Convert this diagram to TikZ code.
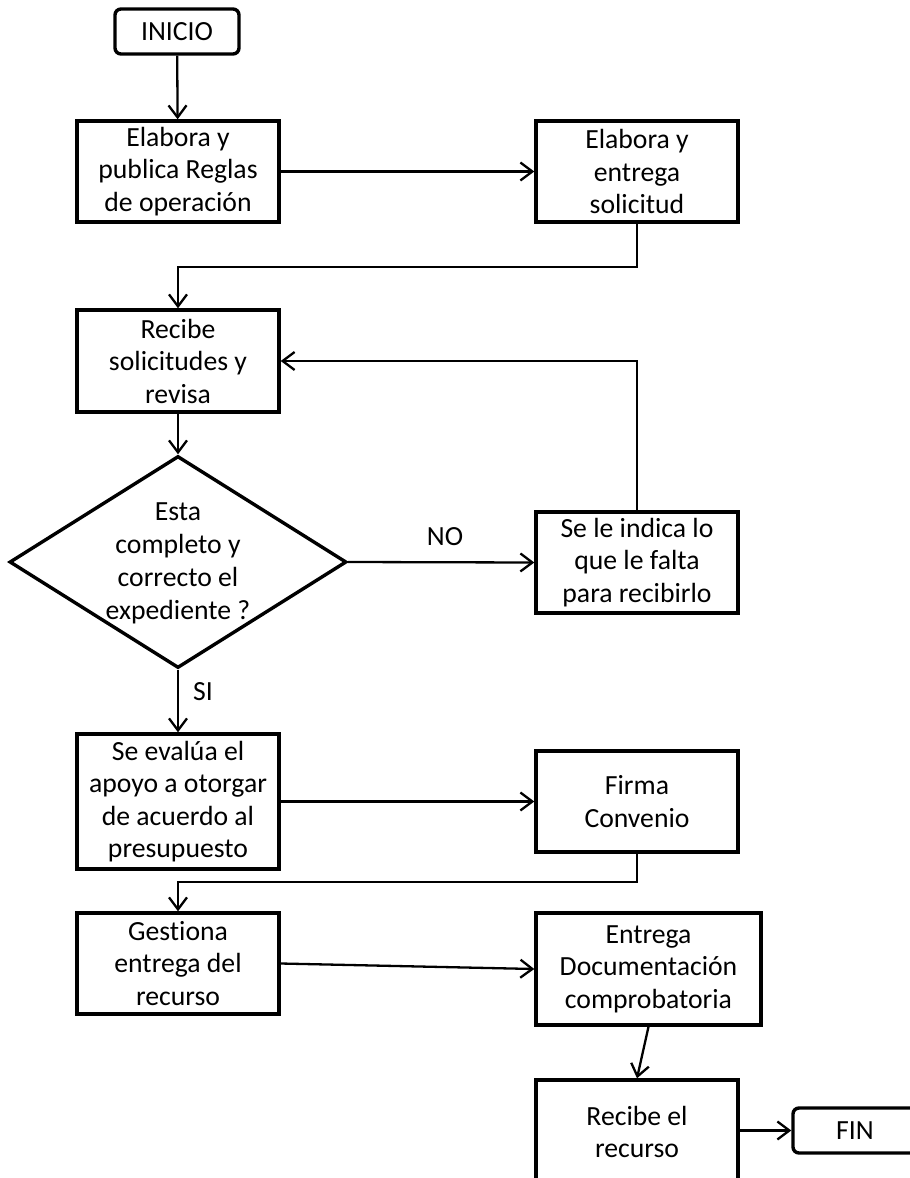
\documentclass[tikz,border=0pt]{standalone}
\usepackage{fontspec}
\setmainfont{Carlito}[Ligatures=NoCommon]
\usetikzlibrary{arrows.meta,shapes.geometric}
\tikzset{
  stepbox/.style={draw, line width=3.4pt, rectangle, inner sep=0pt, align=center,
    font=\fontsize{27.7}{32.5}\selectfont},
  term/.style={draw, line width=3.4pt, rectangle, rounded corners=6pt, inner sep=0pt,
    align=center, font=\fontsize{27.7}{32.5}\selectfont},
  decbox/.style={draw, line width=3.4pt, diamond, inner sep=0pt},
  conn/.style={line width=2.3pt, -{Straight Barb[length=12pt,width=18pt,line width=2.3pt]}},
  lbl/.style={font=\fontsize{27.7}{32.5}\selectfont, inner sep=0pt}
}
\begin{document}
\begin{tikzpicture}[x=1pt,y=-1pt]
\path[use as bounding box, clip] (0,0) rectangle (910,1178);
\fill[white] (0,0) rectangle (910,1178);

\node[term, minimum width=124pt, minimum height=45pt] (ini) at (177,31.5) {INICIO};
\node[stepbox, minimum width=202pt, minimum height=101pt] (b1) at (178,171.5) {Elabora y\\publica Reglas\\de operación};
\node[stepbox, minimum width=202pt, minimum height=101pt] (b2) at (637,171.5) {Elabora y\\entrega\\solicitud};
\node[stepbox, minimum width=202pt, minimum height=102pt] (b3) at (178,361) {Recibe\\solicitudes y\\revisa};
\node[decbox, minimum width=337pt, minimum height=212pt] (dec) at (178,562) {};
\node[lbl, align=center, font=\fontsize{27.7}{33}\selectfont] (dectext) at (178,563) {Esta\\completo y\\correcto el\\expediente ?};
\node[stepbox, minimum width=202pt, minimum height=101pt] (falta) at (637,562.5) {Se le indica lo\\que le falta\\para recibirlo};
\node[stepbox, minimum width=202pt, minimum height=135pt] (eval) at (178,801.5) {Se evalúa el\\apoyo a otorgar\\de acuerdo al\\presupuesto};
\node[stepbox, minimum width=202pt, minimum height=101pt] (firma) at (637,801.5) {Firma\\Convenio};
\node[stepbox, minimum width=202pt, minimum height=101pt] (gest) at (178,963.5) {Gestiona\\entrega del\\recurso};
\node[stepbox, minimum width=225pt, minimum height=112pt] (entr) at (648.5,969) {Entrega\\Documentación\\comprobatoria};
\node[stepbox, minimum width=202pt, minimum height=104pt] (rec) at (637,1132) {Recibe el\\recurso};
\node[term, minimum width=124pt, minimum height=45pt] (fin) at (855,1130.5) {FIN};

\coordinate (c1) at (637,267);
\coordinate (c2) at (178,267);
\coordinate (c3) at (637,361);
\coordinate (c4) at (637,882);
\coordinate (c5) at (178,882);

\draw[conn] (ini) -- (b1);
\draw[conn] (b1) -- (b2);
\draw[conn] (b2.south) -- (c1) -- (c2) -- (b3.north);
\draw[conn] (b3) -- (dec.north);
\draw[conn] (dec.east) -- (falta.west);
\draw[conn] (falta.north) -- (c3) -- (b3.east);
\draw[conn] (dec.south) -- (eval.north);
\draw[conn] (eval) -- (firma);
\draw[conn] (firma.south) -- (c4) -- (c5) -- (gest.north);
\draw[conn] (gest.east) -- (entr.west);
\draw[conn] (entr.south) -- (rec.north);
\draw[conn] (rec.east |- fin.west) -- (fin.west);

\node[lbl] (nolbl) at (445,537) {NO};
\node[lbl] (silbl) at (203,692) {SI};
\end{tikzpicture}
\end{document}
